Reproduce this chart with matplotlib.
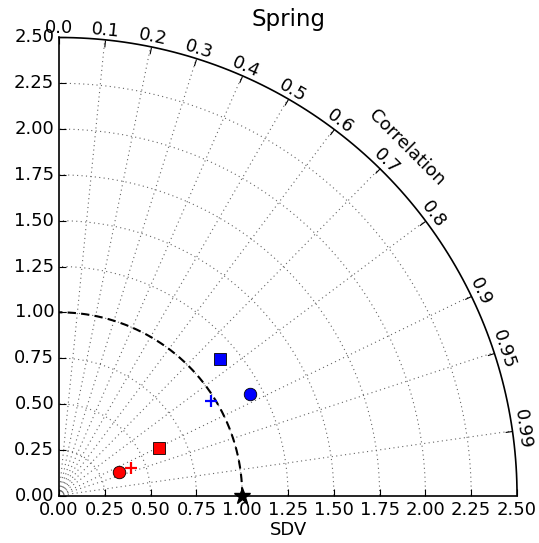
import numpy as np
import matplotlib
matplotlib.use("Agg")
import matplotlib.pyplot as plt
from matplotlib.projections import PolarAxes
import mpl_toolkits.axisartist.floating_axes as FA
import mpl_toolkits.axisartist.grid_finder as GF

# ---- data ----
title = "Spring"
ref_std = 1.0
std_max = 2.5
corr_ticks = [0.0, 0.1, 0.2, 0.3, 0.4, 0.5, 0.6, 0.7, 0.8, 0.9, 0.95, 0.99]
std_ticks = [0.0, 0.25, 0.5, 0.75, 1.0, 1.25, 1.5, 1.75, 2.0, 2.25, 2.5]
stds = [0.353, 0.420, 0.603, 1.151, 0.976, 1.180]
corrs = [0.933, 0.936, 0.902, 0.763, 0.850, 0.883]
colors = ["red", "red", "red", "blue", "blue", "blue"]
markers = ["o", "+", "s", "s", "+", "o"]

plt.rcParams["font.family"] = "DejaVu Sans"
plt.rcParams["font.size"] = 13

fig = plt.figure(figsize=(5.39, 5.43), dpi=100)
fig.patch.set_facecolor("white")

tr = PolarAxes.PolarTransform()
tlocs = np.arccos(corr_ticks)
gl1 = GF.FixedLocator(tlocs)
tf1 = GF.DictFormatter(dict(zip(tlocs, [str(c) for c in corr_ticks])))
gl2 = GF.FixedLocator(std_ticks)
tf2 = GF.DictFormatter(dict(zip(std_ticks, ["%.2f" % s for s in std_ticks])))

gh = FA.GridHelperCurveLinear(tr, extremes=(0, np.pi / 2, 0, std_max),
                              grid_locator1=gl1, tick_formatter1=tf1,
                              grid_locator2=gl2, tick_formatter2=tf2)

ax = fig.add_axes([0.1000, 0.0790, 0.8687, 0.8604],
                  axes_class=FA.FloatingAxes, grid_helper=gh)

ax.axis["top"].set_axis_direction("bottom")
ax.axis["top"].toggle(ticklabels=True, label=True)
ax.axis["top"].major_ticklabels.set_axis_direction("top")
ax.axis["top"].label.set_axis_direction("top")
ax.axis["top"].label.set_text("Correlation")

ax.axis["left"].set_axis_direction("bottom")
ax.axis["left"].label.set_text("SDV")
ax.axis["left"].label.set_pad(4)
ax.axis["left"].major_ticklabels.set_pad(5)

ax.axis["right"].set_axis_direction("top")
ax.axis["right"].toggle(ticklabels=True)
ax.axis["right"].major_ticklabels.set_axis_direction("left")
ax.axis["bottom"].set_visible(False)

for name in ["top", "left", "right"]:
    ax.axis[name].major_ticklabels.set_fontsize(13)
    ax.axis[name].label.set_fontsize(13)
    ax.axis[name].line.set_linewidth(1.2)
    ax.axis[name].major_ticks.set_ticksize(5)

ax.grid(True, linestyle=(0, (1, 3)), color="0.4", linewidth=0.8)
ax.set_title(title, fontsize=16.5, pad=5)

aux = ax.get_aux_axes(tr)

# reference circle
t = np.linspace(0, np.pi / 2, 200)
aux.plot(t, np.full_like(t, ref_std), "k--", linewidth=1.5, dashes=(4, 2.5))
aux.plot([0], [ref_std], "k*", markersize=12, clip_on=False, zorder=5)

for s, c, col, m in zip(stds, corrs, colors, markers):
    if m == "+":
        aux.plot(np.arccos(c), s, m, color=col, markersize=9, mew=1.6, zorder=4)
    else:
        aux.plot(np.arccos(c), s, m, color=col, markeredgecolor="k",
                 markeredgewidth=0.6, markersize=9 if m == "o" else 8.5, zorder=4)

fig.savefig("out.png", dpi=100, facecolor="white")
